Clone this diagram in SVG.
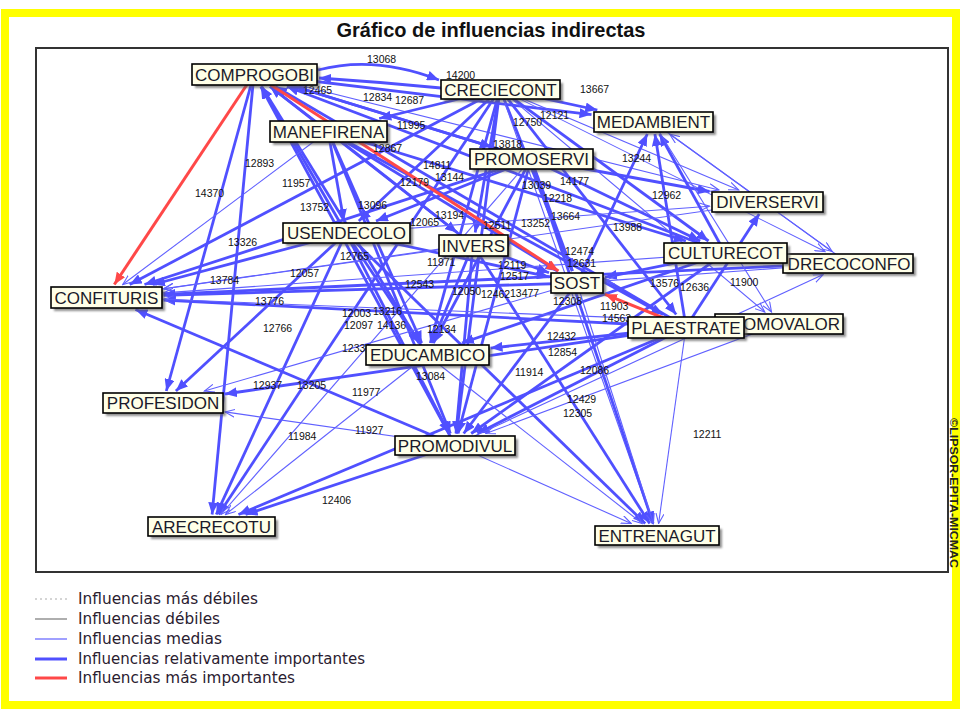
<svg xmlns="http://www.w3.org/2000/svg" width="961" height="710" viewBox="0 0 961 710">
<defs>
<style>
.t{stroke:#5050ff;stroke-width:2.8;fill:none;marker-end:url(#ah)}
.n{stroke:#6060ff;stroke-width:1.1;fill:none;marker-end:url(#an)}
.r{stroke:#ff4848;stroke-width:3;fill:none;marker-end:url(#ar)}
.lb{font-family:"Liberation Sans",Arial,sans-serif;font-size:10.5px;fill:#111}
.bx{fill:#ffffe8;stroke:#000;stroke-width:1.6}
.sh{fill:#555;opacity:.65;filter:url(#blur)}
.nt{font-family:"Liberation Sans",Arial,sans-serif;font-size:17px;fill:#1a1a2a;text-anchor:middle}
.lg{font-family:"DejaVu Sans","Liberation Sans",sans-serif;font-size:15px;fill:#2a2030}
</style>
<filter id="blur" x="-10%" y="-30%" width="120%" height="160%"><feGaussianBlur stdDeviation="1.2"/></filter>
<marker id="ah" markerUnits="userSpaceOnUse" markerWidth="12" markerHeight="10" refX="12" refY="5" orient="auto"><path d="M0,0 L12,5 L0,10 z" fill="#5050ff"/></marker>
<marker id="an" markerUnits="userSpaceOnUse" markerWidth="11" markerHeight="9" refX="10" refY="4.5" orient="auto"><path d="M0,0.5 L10,4.5 L0,8.5" fill="none" stroke="#6060ff" stroke-width="1.1"/></marker>
<marker id="ar" markerUnits="userSpaceOnUse" markerWidth="12" markerHeight="10" refX="12" refY="5" orient="auto"><path d="M0,0 L12,5 L0,10 z" fill="#ff4848"/></marker>
</defs>
<rect x="0" y="0" width="961" height="710" fill="#fff"/>
<rect x="5" y="13" width="951" height="692" fill="none" stroke="#ffff00" stroke-width="8"/>
<text x="491" y="37" font-family="'Liberation Sans',Arial,sans-serif" font-size="20" font-weight="bold" text-anchor="middle" fill="#111">Gráfico de influencias indirectas</text>
<rect x="36" y="48" width="912" height="524" fill="none" stroke="#333" stroke-width="2"/>

<g id="connectors">
<path class="t" d="M318 70 Q375 55 439 80"/>
<path class="t" d="M441 88 Q380 82 319 78"/>
<line class="t" x1="346" y1="233" x2="261.2" y2="86.5"/>
<line class="t" x1="473" y1="245" x2="270" y2="86.5"/>
<line class="t" x1="427" y1="355" x2="261.7" y2="86.5"/>
<line class="t" x1="455" y1="445" x2="260.8" y2="86.5"/>
<line class="t" x1="686" y1="327" x2="275.3" y2="86.5"/>
<line class="t" x1="725" y1="253" x2="286.9" y2="86.5"/>
<line class="t" x1="531" y1="159" x2="294.7" y2="86.5"/>
<line class="t" x1="328" y1="131" x2="270.2" y2="86.5"/>
<line class="t" x1="254" y1="74" x2="166.3" y2="391"/>
<line class="t" x1="254" y1="74" x2="212.1" y2="514.5"/>
<line class="t" x1="254" y1="74" x2="591.5" y2="114.6"/>
<line class="t" x1="254" y1="74" x2="491.9" y2="147"/>
<line class="n" x1="254" y1="74" x2="718.9" y2="190"/>
<line class="t" x1="500" y1="89" x2="358.8" y2="221"/>
<line class="t" x1="500" y1="89" x2="475.2" y2="232.5"/>
<line class="t" x1="500" y1="89" x2="430.3" y2="343"/>
<line class="t" x1="500" y1="89" x2="456.5" y2="433.5"/>
<line class="t" x1="500" y1="89" x2="572.2" y2="271"/>
<line class="t" x1="500" y1="89" x2="676.2" y2="314.5"/>
<line class="t" x1="500" y1="89" x2="708.5" y2="241"/>
<line class="t" x1="500" y1="89" x2="597.3" y2="110"/>
<line class="t" x1="500" y1="89" x2="129.7" y2="284.5"/>
<line class="t" x1="500" y1="89" x2="218.6" y2="514.5"/>
<line class="t" x1="500" y1="89" x2="379.2" y2="118.5"/>
<line class="n" x1="500" y1="89" x2="738.7" y2="190"/>
<line class="n" x1="500" y1="89" x2="652.9" y2="523.5"/>
<line class="n" x1="500" y1="89" x2="764.8" y2="312"/>
<line class="n" x1="500" y1="89" x2="825" y2="251.5"/>
<line class="t" x1="328" y1="131" x2="557.4" y2="271"/>
<line class="t" x1="328" y1="131" x2="663.2" y2="314.5"/>
<line class="t" x1="328" y1="131" x2="685.9" y2="241"/>
<line class="t" x1="328" y1="131" x2="343.9" y2="221"/>
<line class="t" x1="328" y1="131" x2="421.7" y2="343"/>
<line class="t" x1="328" y1="131" x2="450.4" y2="433.5"/>
<line class="t" x1="328" y1="131" x2="457.1" y2="232.5"/>
<line class="n" x1="328" y1="131" x2="122.7" y2="284.5"/>
<line class="t" x1="531" y1="159" x2="376" y2="221"/>
<line class="t" x1="531" y1="159" x2="144.5" y2="284.5"/>
<line class="t" x1="531" y1="159" x2="433.4" y2="343"/>
<line class="t" x1="531" y1="159" x2="458.1" y2="433.5"/>
<line class="t" x1="531" y1="159" x2="653.1" y2="523.5"/>
<line class="t" x1="531" y1="159" x2="572.5" y2="271"/>
<line class="t" x1="531" y1="159" x2="700.2" y2="241"/>
<line class="t" x1="531" y1="159" x2="709.5" y2="191.5"/>
<line class="n" x1="531" y1="159" x2="221" y2="514.5"/>
<line class="t" x1="346" y1="233" x2="152.9" y2="284.5"/>
<line class="t" x1="346" y1="233" x2="175.9" y2="391"/>
<line class="t" x1="346" y1="233" x2="216.3" y2="514.5"/>
<line class="t" x1="346" y1="233" x2="419" y2="343"/>
<line class="t" x1="346" y1="233" x2="449.1" y2="433.5"/>
<line class="t" x1="346" y1="233" x2="645.2" y2="523.5"/>
<line class="t" x1="346" y1="233" x2="549" y2="276.9"/>
<line class="n" x1="346" y1="233" x2="709.5" y2="206.2"/>
<line class="n" x1="473" y1="245" x2="163.5" y2="288.9"/>
<line class="t" x1="473" y1="245" x2="549" y2="272.8"/>
<line class="t" x1="473" y1="245" x2="456" y2="433.5"/>
<line class="t" x1="473" y1="245" x2="432" y2="343"/>
<line class="t" x1="473" y1="245" x2="649.7" y2="523.5"/>
<line class="n" x1="725" y1="253" x2="163.5" y2="292.9"/>
<line class="t" x1="725" y1="253" x2="462" y2="343"/>
<line class="t" x1="725" y1="253" x2="471.2" y2="433.5"/>
<line class="t" x1="725" y1="253" x2="605" y2="277.3"/>
<line class="t" x1="725" y1="253" x2="659.6" y2="134"/>
<line class="t" x1="848" y1="263" x2="163.5" y2="294.4"/>
<line class="n" x1="848" y1="263" x2="669.6" y2="134"/>
<line class="n" x1="848" y1="263" x2="605" y2="280.9"/>
<line class="t" x1="577" y1="283" x2="163.5" y2="295.3"/>
<line class="t" x1="577" y1="283" x2="463.7" y2="433.5"/>
<line class="n" x1="577" y1="283" x2="653.4" y2="523.5"/>
<line class="t" x1="577" y1="283" x2="647.3" y2="134"/>
<line class="n" x1="577" y1="283" x2="204.4" y2="391"/>
<line class="t" x1="686" y1="327" x2="163.5" y2="300"/>
<line class="t" x1="686" y1="327" x2="225" y2="394"/>
<line class="t" x1="686" y1="327" x2="238.5" y2="514.5"/>
<line class="t" x1="686" y1="327" x2="654.9" y2="134"/>
<line class="t" x1="686" y1="327" x2="759.2" y2="214"/>
<line class="t" x1="686" y1="327" x2="490.5" y2="348.1"/>
<line class="t" x1="686" y1="327" x2="477.5" y2="433.5"/>
<line class="n" x1="686" y1="327" x2="658.6" y2="523.5"/>
<line class="n" x1="779" y1="324" x2="163.5" y2="299.3"/>
<line class="n" x1="779" y1="324" x2="485.8" y2="433.5"/>
<line class="n" x1="427" y1="355" x2="225.5" y2="514.5"/>
<line class="n" x1="427" y1="355" x2="642.3" y2="523.5"/>
<line class="t" x1="455" y1="445" x2="135.5" y2="309.5"/>
<line class="t" x1="455" y1="445" x2="245.6" y2="514.5"/>
<line class="n" x1="455" y1="445" x2="225" y2="411.9"/>
<line class="n" x1="455" y1="445" x2="631.2" y2="523.5"/>
<line class="n" x1="455" y1="445" x2="823.2" y2="274.5"/>
<line class="n" x1="653" y1="122" x2="771.5" y2="312"/>
<line class="n" x1="653" y1="122" x2="832.1" y2="251.5"/>
<line class="n" x1="767" y1="202" x2="163.5" y2="288.7"/>
<line class="r" x1="254" y1="74" x2="114.3" y2="284.5"/>
<line class="r" x1="254" y1="74" x2="558.5" y2="271"/>
<line class="r" x1="686" y1="327" x2="605" y2="294.3"/>
</g>

<g id="labels" class="lb">
<text x="367" y="63">13068</text><text x="446" y="79">14200</text><text x="303" y="94">12465</text>
<text x="580" y="93">13667</text><text x="363" y="101">12834</text><text x="395" y="104">12687</text>
<text x="513" y="126">12750</text><text x="540" y="119">12121</text><text x="397" y="129">11995</text>
<text x="373" y="152">12867</text><text x="493" y="148">13818</text><text x="423" y="169">14811</text>
<text x="435" y="181">13144</text><text x="400" y="186">12179</text><text x="622" y="162">13244</text>
<text x="522" y="189">13039</text><text x="560" y="185">14177</text><text x="543" y="202">12218</text>
<text x="652" y="199">12962</text><text x="282" y="187">11957</text><text x="245" y="167">12893</text>
<text x="195" y="197">14370</text><text x="300" y="211">13752</text><text x="358" y="209">13096</text>
<text x="435" y="219">13194</text><text x="410" y="226">12065</text><text x="483" y="229">12511</text>
<text x="521" y="227">13252</text><text x="551" y="220">13664</text><text x="613" y="231">13988</text>
<text x="228" y="246">13326</text><text x="340" y="260">12765</text><text x="427" y="266">11971</text>
<text x="565" y="255">12474</text><text x="567" y="267">12631</text><text x="498" y="269">12119</text>
<text x="500" y="280">12517</text><text x="405" y="288">12543</text><text x="452" y="295">12050</text>
<text x="481" y="298">12462</text><text x="510" y="297">13477</text><text x="553" y="305">12308</text>
<text x="600" y="310">11903</text><text x="602" y="322">14563</text><text x="730" y="286">11900</text>
<text x="650" y="287">13576</text><text x="680" y="291">12636</text><text x="210" y="284">13784</text>
<text x="290" y="277">12057</text><text x="255" y="305">13776</text><text x="263" y="332">12766</text>
<text x="342" y="317">12003</text><text x="373" y="315">13216</text><text x="344" y="329">12097</text>
<text x="377" y="329">14136</text><text x="427" y="333">12134</text><text x="342" y="352">12331</text>
<text x="547" y="340">12432</text><text x="548" y="356">12854</text><text x="416" y="380">13084</text>
<text x="515" y="376">11914</text><text x="580" y="374">12086</text><text x="567" y="403">12429</text>
<text x="563" y="417">12305</text><text x="352" y="396">11977</text><text x="253" y="389">12937</text>
<text x="297" y="389">13205</text><text x="288" y="440">11984</text><text x="355" y="434">11927</text>
<text x="322" y="504">12406</text><text x="693" y="438">12211</text>
</g>

<g id="n-COMPROGOBI"><rect class="sh" x="195" y="67" width="125" height="21"/><rect class="bx" x="192" y="64" width="125" height="21"/><text class="nt" x="254.5" y="81">COMPROGOBI</text></g>
<g id="n-CRECIECONT"><rect class="sh" x="444" y="83" width="119" height="19"/><rect class="bx" x="441" y="80" width="119" height="19"/><text class="nt" x="500.5" y="95.5">CRECIECONT</text></g>
<g id="n-MEDAMBIENT"><rect class="sh" x="597" y="115" width="119" height="20"/><rect class="bx" x="594" y="112" width="119" height="20"/><text class="nt" x="653.5" y="128">MEDAMBIENT</text></g>
<g id="n-MANEFIRENA"><rect class="sh" x="273" y="124" width="117" height="21"/><rect class="bx" x="270" y="121" width="117" height="21"/><text class="nt" x="328.5" y="137.5">MANEFIRENA</text></g>
<g id="n-PROMOSERVI"><rect class="sh" x="473" y="152" width="123" height="20"/><rect class="bx" x="470" y="149" width="123" height="20"/><text class="nt" x="531.5" y="165">PROMOSERVI</text></g>
<g id="n-DIVERSERVI"><rect class="sh" x="715" y="195" width="111" height="20"/><rect class="bx" x="712" y="192" width="111" height="20"/><text class="nt" x="767.5" y="208">DIVERSERVI</text></g>
<g id="n-USENDECOLO"><rect class="sh" x="286" y="226" width="127" height="20"/><rect class="bx" x="283" y="223" width="127" height="20"/><text class="nt" x="346.5" y="239">USENDECOLO</text></g>
<g id="n-INVERS"><rect class="sh" x="442" y="238" width="69" height="21"/><rect class="bx" x="439" y="235" width="69" height="21"/><text class="nt" x="473.5" y="251.5">INVERS</text></g>
<g id="n-DRECOCONFO"><rect class="sh" x="786" y="257" width="130" height="19"/><rect class="bx" x="783" y="254" width="130" height="19"/><text class="nt" x="849" y="269.5">DRECOCONFO</text></g>
<g id="n-CULTURECOT"><rect class="sh" x="667" y="246" width="123" height="20"/><rect class="bx" x="664" y="243" width="123" height="20"/><text class="nt" x="725.5" y="259">CULTURECOT</text></g>
<g id="n-CONFITURIS"><rect class="sh" x="54" y="290" width="111" height="21"/><rect class="bx" x="51" y="287" width="111" height="21"/><text class="nt" x="106.5" y="303.5">CONFITURIS</text></g>
<g id="n-SOST"><rect class="sh" x="554" y="276" width="52" height="20"/><rect class="bx" x="551" y="273" width="52" height="20"/><text class="nt" x="577" y="289">SOST</text></g>
<g id="n-PROMOVALOR"><rect class="sh" x="718" y="317" width="128" height="20"/><rect class="bx" x="715" y="314" width="128" height="20"/><text class="nt" x="840" y="330" style="text-anchor:end">OMOVALOR</text></g>
<g id="n-PLAESTRATE"><rect class="sh" x="631" y="320" width="116" height="21"/><rect class="bx" x="628" y="317" width="116" height="21"/><text class="nt" x="686" y="333.5">PLAESTRATE</text></g>
<g id="n-EDUCAMBICO"><rect class="sh" x="369" y="348" width="123" height="20"/><rect class="bx" x="366" y="345" width="123" height="20"/><text class="nt" x="427.5" y="361">EDUCAMBICO</text></g>
<g id="n-PROFESIDON"><rect class="sh" x="106" y="396" width="120" height="20"/><rect class="bx" x="103" y="393" width="120" height="20"/><text class="nt" x="163" y="409">PROFESIDON</text></g>
<g id="n-PROMODIVUL"><rect class="sh" x="398" y="439" width="120" height="19"/><rect class="bx" x="395" y="436" width="120" height="19"/><text class="nt" x="455" y="451.5">PROMODIVUL</text></g>
<g id="n-ARECRECOTU"><rect class="sh" x="151" y="520" width="127" height="19"/><rect class="bx" x="148" y="517" width="127" height="19"/><text class="nt" x="211.5" y="532.5">ARECRECOTU</text></g>
<g id="n-ENTRENAGUT"><rect class="sh" x="598" y="529" width="124" height="19"/><rect class="bx" x="595" y="526" width="124" height="19"/><text class="nt" x="657" y="541.5">ENTRENAGUT</text></g>

<text transform="translate(950,418) rotate(90)" font-family="'Liberation Sans',Arial,sans-serif" font-size="10" font-weight="bold" fill="#222" textLength="150" lengthAdjust="spacingAndGlyphs">©LIPSOR-EPITA-MICMAC</text>

<g id="legend">
<line x1="35" y1="599" x2="67" y2="599" stroke="#aaa" stroke-width="1" stroke-dasharray="2,3"/>
<line x1="35" y1="619" x2="67" y2="619" stroke="#777" stroke-width="1.2"/>
<line x1="35" y1="639" x2="67" y2="639" stroke="#6060ff" stroke-width="1.2"/>
<line x1="35" y1="659" x2="67" y2="659" stroke="#5050ff" stroke-width="3"/>
<line x1="35" y1="678" x2="67" y2="678" stroke="#ff4848" stroke-width="3"/>
<text class="lg" x="78" y="604" textLength="180" lengthAdjust="spacingAndGlyphs">Influencias más débiles</text>
<text class="lg" x="78" y="624" textLength="142" lengthAdjust="spacingAndGlyphs">Influencias débiles</text>
<text class="lg" x="78" y="644" textLength="144" lengthAdjust="spacingAndGlyphs">Influencias medias</text>
<text class="lg" x="78" y="664" textLength="287" lengthAdjust="spacingAndGlyphs">Influencias relativamente importantes</text>
<text class="lg" x="78" y="683" textLength="217" lengthAdjust="spacingAndGlyphs">Influencias más importantes</text>
</g>
</svg>
